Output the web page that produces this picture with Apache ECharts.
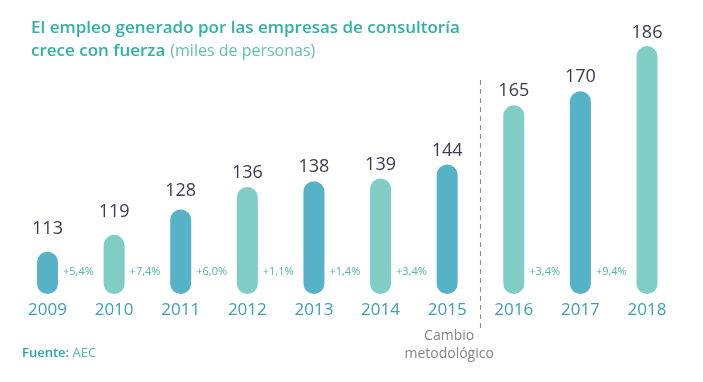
<!DOCTYPE html>
<html><head><meta charset="utf-8">
<script src="https://cdn.jsdelivr.net/npm/echarts@6/dist/echarts.min.js"></script>
<style>html,body{margin:0;padding:0;background:#fff}#c{width:703px;height:382px}</style>
</head><body><div id="c"></div>
<script>
const years = ['2009','2010','2011','2012','2013','2014','2015','2016','2017','2018'];
const values = [113,119,128,136,138,139,144,165,170,186];
const growth = ['+5,4%','+7,4%','+6,0%','+1,1%','+1,4%','+3,4%','','+3,4%','+9,4%',''];
const labelGap = [14,14,10,5,5,5,5,5,5,4];
const DARK = '#55b2c7', LIGHT = '#7fcdc5';
const chart = echarts.init(document.getElementById('c'));
const FONT = '"Open Sans", "Noto Sans", sans-serif';
chart.setOption({
  animation:false,
  title:{
    left:26, top:12,
    text:'{b|El empleo generado por las empresas de consultoría}\n{b|crece con fuerza} {n|(miles de personas)}',
    textStyle:{rich:{
      b:{fontFamily:FONT,fontSize:17,fontWeight:600,color:'#2fb2a3',lineHeight:23},
      n:{fontFamily:FONT,fontSize:16,fontWeight:'normal',color:'#5fc0b3',lineHeight:23}
    }}
  },
  grid:{left:14.2, right:22.7, top:6.6, bottom:88},
  xAxis:{type:'category',data:years,
    axisLine:{show:false},axisTick:{show:false},
    axisLabel:{fontFamily:FONT,fontSize:17,color:'#3d9fb2',margin:8}},
  yAxis:{type:'value',min:98,max:200,show:false,splitLine:{show:false}},
  series:[{
    type:'bar',barWidth:21,
    data:values.map((v,i)=>({value:v,
      itemStyle:{color:i%2===0?DARK:LIGHT,borderRadius:10.5},
      label:{distance:labelGap[i]}})),
    label:{show:true,position:'top',fontFamily:FONT,fontSize:18,color:'#3e3a52'}
  },{
    type:'bar',barWidth:21,barGap:'-100%',
    data:values.map((v,i)=>({value:v,label:{formatter:growth[i]}})),
    itemStyle:{color:'rgba(0,0,0,0)'},
    label:{show:true,position:['100%','100%'],offset:[5,-22],align:'left',verticalAlign:'middle',
      fontFamily:FONT,fontSize:11,color:'#4fb5a9'},
    silent:true
  }]
});
const p6 = chart.convertToPixel({gridIndex:0},[6, values[6]]);
const p7 = chart.convertToPixel({gridIndex:0},[7, values[7]]);
const xs = (p6[0]+p7[0])/2;
chart.setOption({graphic:[
  {type:'line',shape:{x1:xs,y1:80,x2:xs,y2:329},style:{stroke:'#8a8a8a',lineWidth:1,lineDash:[5,4]}},
  {type:'text',x:p6[0]+2,y:345,style:{text:'Cambio\nmetodológico',font:'14px '+FONT,fill:'#858585',align:'center',verticalAlign:'middle',lineHeight:18}},
  {type:'text',x:22,y:353,style:{text:'{a|Fuente:} {b|AEC}',verticalAlign:'middle',fill:'#4fb8c0',fontSize:13,fontFamily:FONT,rich:{
    a:{fontFamily:FONT,fontSize:13,fontWeight:600,fill:'#2aa2ad'},
    b:{fontFamily:FONT,fontSize:13,fill:'#4fb8c0'}}}}
]});
</script></body></html>
